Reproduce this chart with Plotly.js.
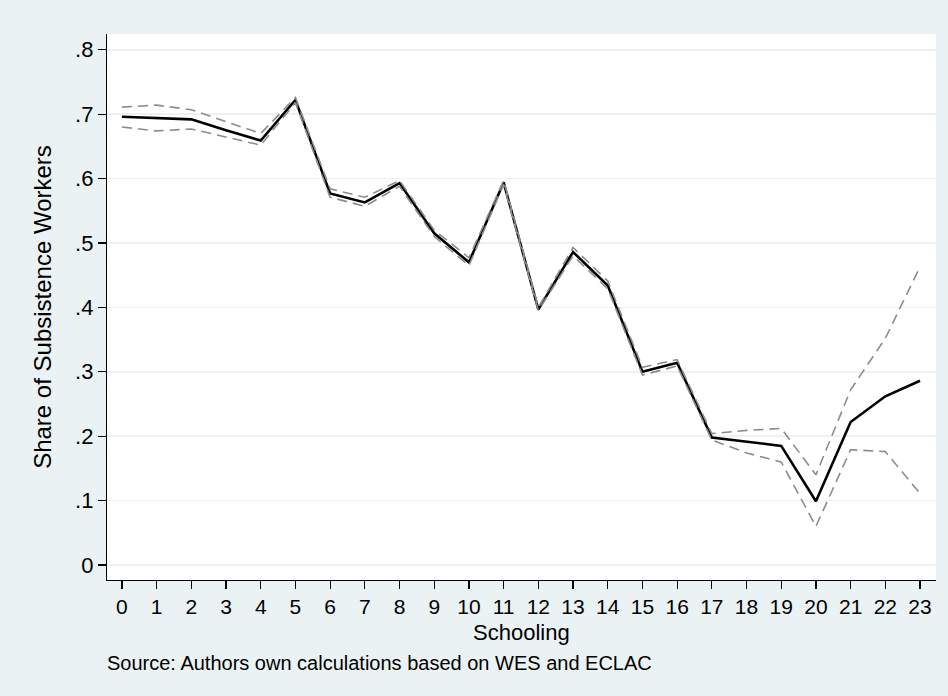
<!DOCTYPE html>
<html>
<head>
<meta charset="utf-8">
<script src="https://cdn.plot.ly/plotly-3.0.1.min.js"></script>
<style>html,body{margin:0;padding:0;background:#eaf2f3;}#chart{width:948px;height:696px;}</style>
</head>
<body>
<div id="chart"></div>
<script>
// Years of schooling
const schooling = [0,1,2,3,4,5,6,7,8,9,10,11,12,13,14,15,16,17,18,19,20,21,22,23];
// Share of subsistence workers (point estimate)
const share = [0.696,0.694,0.692,0.675,0.659,0.722,0.577,0.563,0.593,0.515,0.470,0.594,0.397,0.486,0.434,0.300,0.314,0.198,0.192,0.185,0.099,0.222,0.262,0.286];
// Upper confidence bound
const upper = [0.711,0.714,0.707,0.688,0.670,0.726,0.584,0.571,0.597,0.520,0.477,0.597,0.400,0.493,0.441,0.307,0.319,0.204,0.209,0.212,0.140,0.272,0.352,0.463];
// Lower confidence bound
const lower = [0.680,0.674,0.677,0.665,0.652,0.718,0.571,0.557,0.588,0.510,0.465,0.591,0.395,0.480,0.429,0.295,0.309,0.194,0.174,0.160,0.060,0.179,0.176,0.111];
// Axis tick labels
const yTickVals = [0,0.1,0.2,0.3,0.4,0.5,0.6,0.7,0.8];
const yTickText = ['0','.1','.2','.3','.4','.5','.6','.7','.8'];
const xTickVals = schooling;
const xTickText = schooling.map(String);

const font = 'Liberation Sans, Arial, sans-serif';
const traces = [
  {x: schooling, y: share, type: 'scatter', mode: 'lines', name: 'Share',
   line: {color: '#000000', width: 2.6}},
  {x: schooling, y: upper, type: 'scatter', mode: 'lines', name: 'Upper',
   line: {color: '#8c8c8c', width: 1.6, dash: '10px,6px'}},
  {x: schooling, y: lower, type: 'scatter', mode: 'lines', name: 'Lower',
   line: {color: '#8c8c8c', width: 1.6, dash: '10px,6px'}}
];
const layout = {
  width: 948, height: 696,
  paper_bgcolor: '#eaf2f3', plot_bgcolor: '#ffffff',
  showlegend: false,
  margin: {l: 107, r: 12, t: 34, b: 116, pad: 0},
  font: {family: font, color: '#000000', size: 22},
  xaxis: {
    range: [-0.43, 23.46], tickmode: 'array', tickvals: xTickVals, ticktext: xTickText,
    ticks: 'outside', ticklen: 8, tickwidth: 1.2, tickcolor: '#000',
    showline: true, linecolor: '#000', linewidth: 1.2, showgrid: false, zeroline: false,
    tickfont: {size: 21, family: font}
  },
  yaxis: {
    range: [-0.0233, 0.8245], tickmode: 'array', tickvals: yTickVals, ticktext: yTickText,
    ticks: 'outside', ticklen: 8, tickwidth: 1.2, tickcolor: '#000',
    showline: true, linecolor: '#000', linewidth: 1.2,
    showgrid: true, gridcolor: '#eaf2f3', gridwidth: 1.6, zeroline: false,
    tickfont: {size: 22, family: font},
    title: {text: 'Share of Subsistence Workers', font: {size: 24, family: font}, standoff: 16}
  },
  annotations: [{
    text: 'Schooling',
    xref: 'paper', yref: 'paper', x: 0.5, y: 0, xanchor: 'center', yanchor: 'middle',
    yshift: -52, showarrow: false, font: {size: 22, family: font, color: '#000'}
  }, {
    text: 'Source: Authors own calculations based on WES and ECLAC',
    xref: 'paper', yref: 'paper', x: 0, y: 0, xanchor: 'left', yanchor: 'middle',
    xshift: -2, yshift: -83, showarrow: false, font: {size: 20, family: font, color: '#000'}
  }]
};
Plotly.newPlot('chart', traces, layout, {displayModeBar: false, staticPlot: true});
</script>
</body>
</html>
